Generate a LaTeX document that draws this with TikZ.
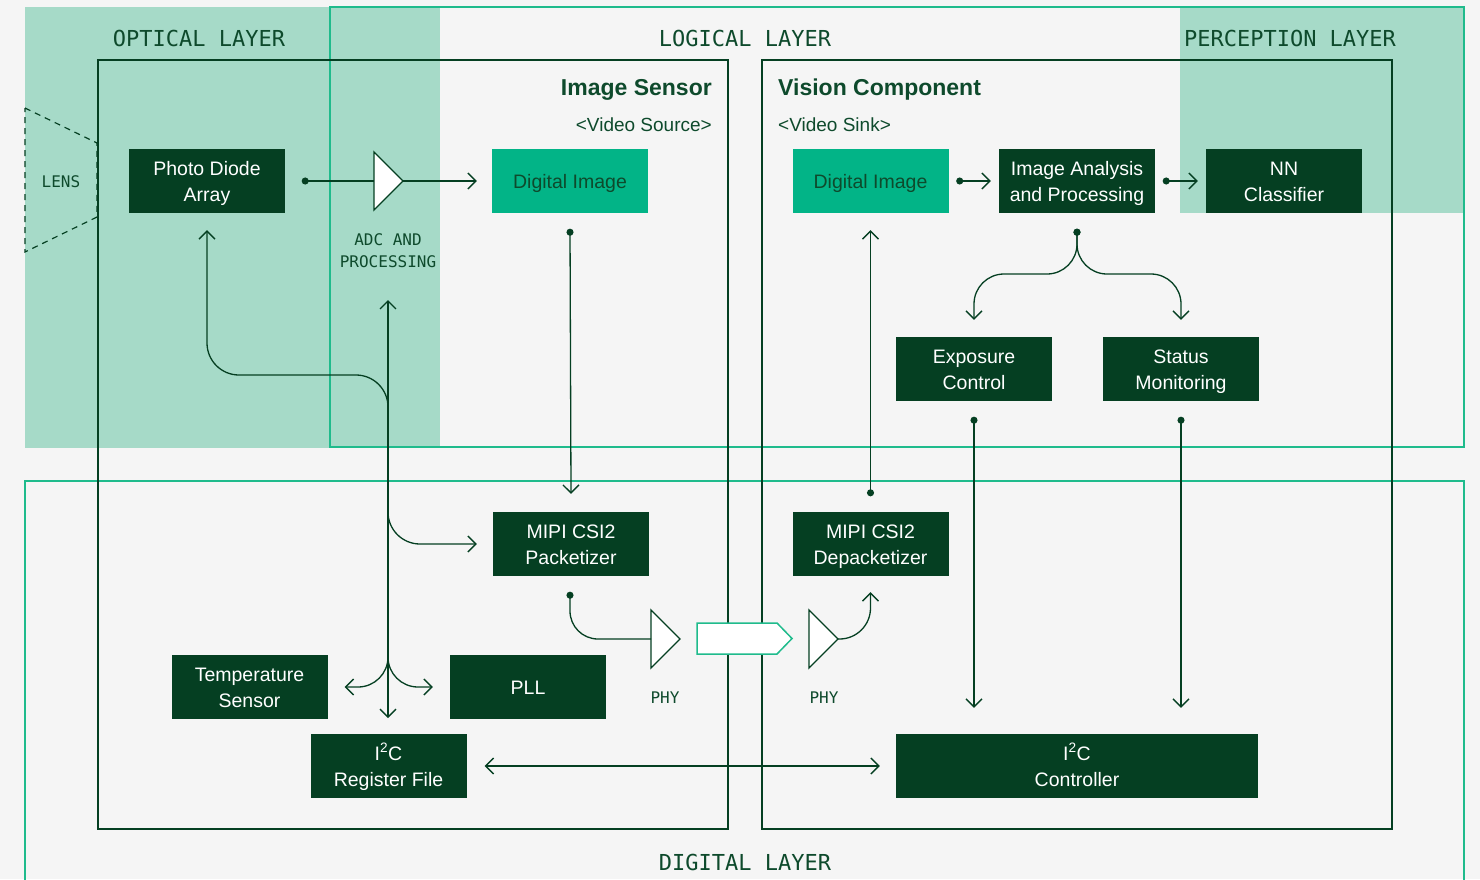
\documentclass[tikz,border=0pt]{standalone}
\usepackage{fontspec}
\setmainfont{Liberation Sans}
\newfontfamily\monof{DejaVu Sans Mono}
\usetikzlibrary{arrows.meta}
\definecolor{bgc}{HTML}{F5F5F5}
\definecolor{pale}{HTML}{A6DAC8}
\definecolor{lgreen}{HTML}{1FBB8C}
\definecolor{bgreen}{HTML}{02B487}
\definecolor{dk}{HTML}{053F22}
\definecolor{txt}{HTML}{0E4A2C}
\newcommand{\lst}{\rule[-6pt]{0pt}{26pt}}
\tikzset{vb/.tip={Straight Barb[length=8pt,width=16pt]}}
\begin{document}
\begin{tikzpicture}[x=1pt,y=-1pt,
  box/.style={rectangle, fill=dk, text=white, minimum width=156pt, minimum height=64pt, inner sep=0pt, align=center, font=\fontsize{19.5}{26}\selectfont},
  gbox/.style={box, fill=bgreen, text=txt},
  lay/.style={font=\monof\fontsize{22}{26}\selectfont, text=txt, inner sep=0pt},
  small/.style={font=\monof\fontsize{16}{21.5}\selectfont, text=txt, align=center, inner sep=0pt},
  ttl/.style={font=\bfseries\fontsize{23}{26}\selectfont, text=txt, inner sep=0pt},
  sub/.style={font=\fontsize{19}{24}\selectfont, text=txt, inner sep=0pt},
  conn/.style={draw=dk, line width=1.3pt},
  arr/.style={conn, -vb},
  darr/.style={conn, vb-vb},
  dotarr/.style={conn, {Circle[length=7pt]}-vb},
  dotl/.style={conn, {Circle[length=7pt]}-},
  tri/.style={draw=dk, fill=white, line width=1.3pt, line join=miter},
  layer/.style={draw=lgreen, line width=1.6pt},
  cont/.style={draw=dk, line width=1.5pt}
]
\useasboundingbox (0,0) rectangle (1480,879);
\fill[bgc] (0,0) rectangle (1480,879);
% layers
\fill[pale] (25,7) rectangle (440,448);
\fill[pale] (1180,7) rectangle (1464,213);
\draw[layer] (330,7) rectangle (1464,447);
\draw[layer] (25,481) rectangle (1464,900);
% containers
\draw[cont] (98,60) rectangle (728,829);
\draw[cont] (762,60) rectangle (1392,829);
% layer labels
\node[lay] (lopt) at (199,38) {OPTICAL LAYER};
\node[lay] (llog) at (745,38) {LOGICAL LAYER};
\node[lay] (lper) at (1290,38) {PERCEPTION LAYER};
\node[lay] (ldig) at (745,862) {DIGITAL LAYER};
% titles
\node[ttl, anchor=east] (tis) at (712,89.5) {Image Sensor};
\node[sub, anchor=east] (tvs) at (712,125) {<Video Source>};
\node[ttl, anchor=west] (tvc) at (778,89.5) {Vision Component};
\node[sub, anchor=west] (tvk) at (778,125) {<Video Sink>};
% lens
\draw[dk, dash pattern=on 6pt off 5pt, line width=1.2pt] (25,108) -- (97,143) -- (97,217) -- (25,252) -- cycle;
\node[small] (lens) at (61,182) {LENS};
% boxes
\node[box] (pd) at (207,181) {\lst Photo Diode\\\lst Array};
\node[gbox] (di1) at (570,181) {\lst Digital Image};
\node[gbox] (di2) at (870.5,181) {\lst Digital Image};
\node[box] (ia) at (1077,181) {\lst Image Analysis\\\lst and Processing};
\node[box] (nn) at (1284,181) {\lst NN\\\lst Classifier};
\node[box] (ec) at (974,369) {\lst Exposure\\\lst Control};
\node[box] (sm) at (1181,369) {\lst Status\\\lst Monitoring};
\node[box] (pk) at (571,544) {\lst MIPI CSI2\\\lst Packetizer};
\node[box] (dp) at (870.5,544) {\lst MIPI CSI2\\\lst Depacketizer};
\node[box] (ts) at (249.5,687) {\lst Temperature\\\lst Sensor};
\node[box] (pll) at (528,687) {\lst PLL};
\node[box] (rf) at (388.5,766) {\lst I\textsuperscript{2}C\\\lst Register File};
\node[box, minimum width=362pt] (ic) at (1077,766) {\lst I\textsuperscript{2}C\\\lst Controller};
% small labels
\node[small] (adcl) at (388,250.5) {ADC AND\\PROCESSING};
\node[small] (phy1) at (665,698) {PHY};
\node[small] (phy2) at (824,698) {PHY};
% ADC triangle
\coordinate (adcin) at (374,181);
\coordinate (adcout) at (403,181);
\draw[tri] (374,152) -- (adcout) -- (374,210) -- cycle;
% PHY triangles
\coordinate (p1in) at (651,639);
\coordinate (p1out) at (680,639);
\draw[tri] (651,610) -- (p1out) -- (651,668) -- cycle;
\coordinate (p2in) at (809,639);
\coordinate (p2out) at (838,639);
\draw[tri] (809,610) -- (p2out) -- (809,668) -- cycle;
% link pentagon
\draw[draw=lgreen, fill=white, line width=1.5pt, line join=miter] (697,623) -- (777,623) -- (792,638.5) -- (777,654) -- (697,654) -- cycle;
% connectors
\draw[dotl] ([xshift=16.5pt]pd.east) -- (adcin);
\draw[arr] (adcout) -- ([xshift=-15pt]di1.west);
\draw[dotarr] ([yshift=-15.5pt]di1.south) -- ([yshift=18pt]pk.north);
\draw[dotl, rounded corners=28pt] ([xshift=-1pt,yshift=-15.5pt]pk.south) |- (p1in);
\draw[arr, rounded corners=31pt] (p2out) -| ([yshift=-16pt]dp.south);
\draw[dotarr] ([yshift=15.5pt]dp.north) -- ([yshift=-17pt]di2.south);
\draw[dotarr] ([xshift=7.5pt]di2.east) -- ([xshift=-8pt]ia.west);
\draw[dotarr] ([xshift=7.5pt]ia.east) -- ([xshift=-8pt]nn.west);
\coordinate (split) at (1077,274);
\draw[dotarr, rounded corners=30pt] ([yshift=-15.5pt]ia.south) -- (split) -| ([yshift=17pt]ec.north);
\draw[dotarr, rounded corners=30pt] ([yshift=-15.5pt]ia.south) -- (split) -| ([yshift=17pt]sm.north);
\draw[dotarr, shorten >=26pt] ([yshift=-15.5pt]ec.south) -- (ec.south |- ic.north);
\draw[dotarr, shorten >=26pt] ([yshift=-15.5pt]sm.south) -- (sm.south |- ic.north);
\draw[darr] ([xshift=18pt]rf.east) -- ([xshift=-16pt]ic.west);
% control bus
\coordinate (bustop) at (388,300);
\coordinate (busbot) at (388,718);
\draw[darr] (bustop) -- (busbot);
\coordinate (b1) at (388,440);
\coordinate (pdx) at (207,375);
\draw[arr, rounded corners=32pt] (b1) |- (pdx) -- ([yshift=-17pt]pd.south);
\coordinate (b2) at (388,490);
\draw[arr, rounded corners=32pt] (b2) |- ([xshift=-16pt]pk.west);
\coordinate (b3) at (388,640);
\draw[arr, rounded corners=30pt] (b3) |- ([xshift=17pt]ts.east);
\draw[arr, rounded corners=30pt] (b3) |- ([xshift=-17pt]pll.west);
\end{tikzpicture}
\end{document}
